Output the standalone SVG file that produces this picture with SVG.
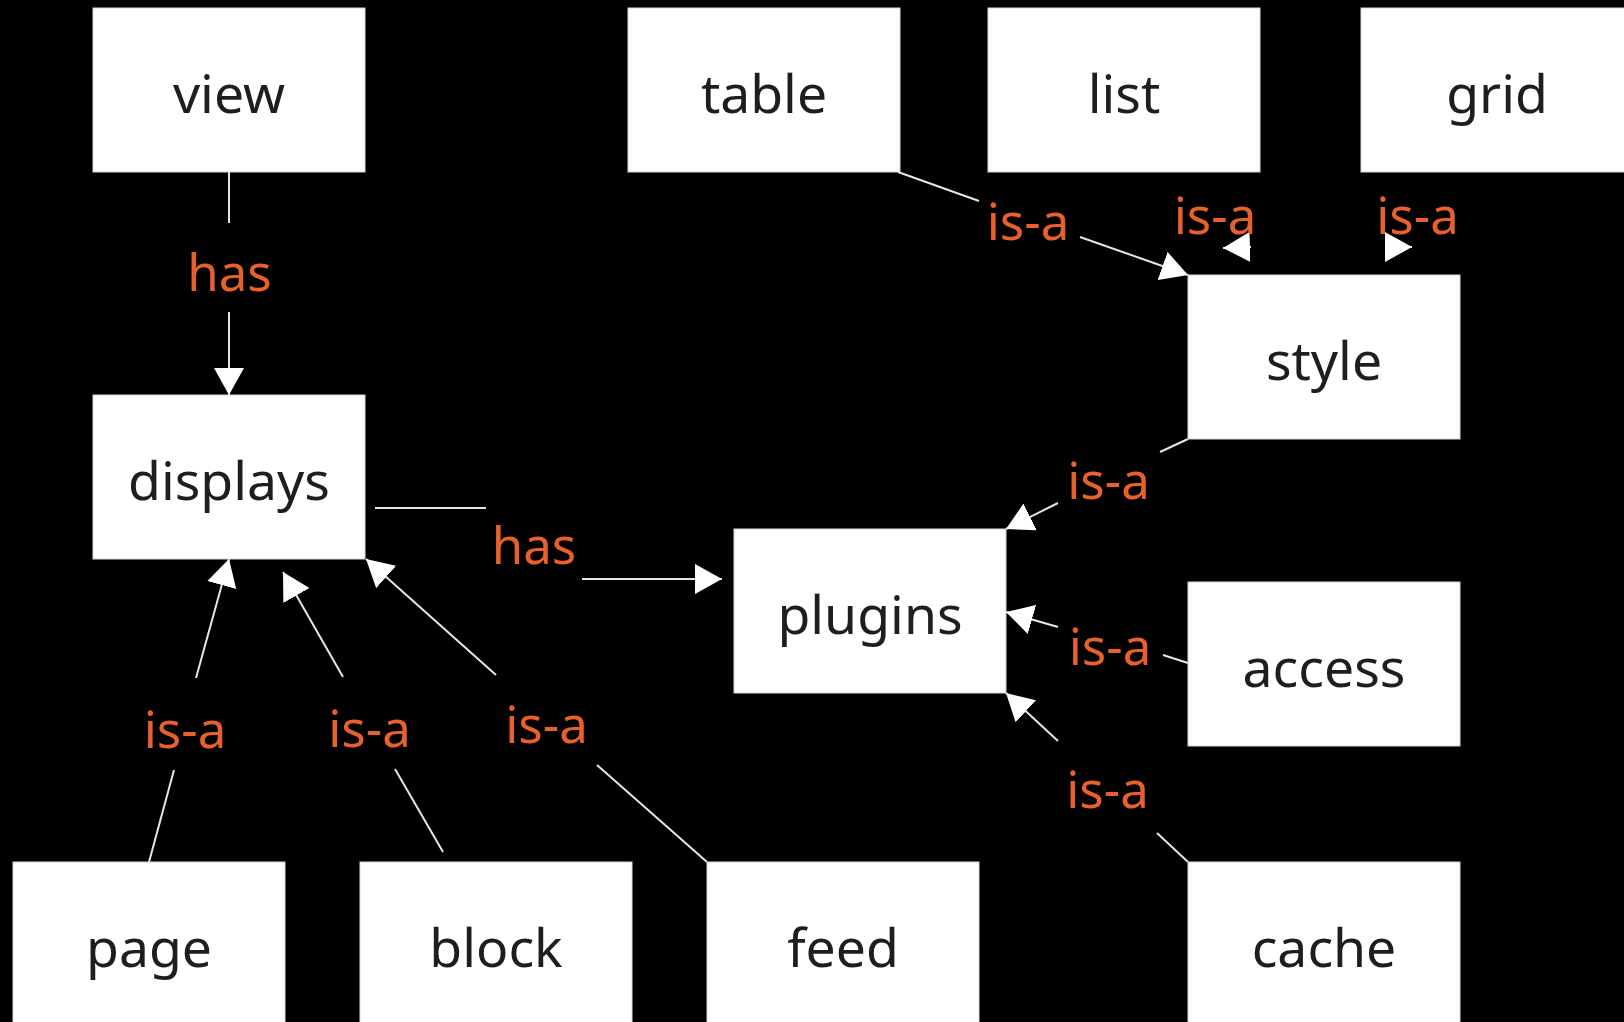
<svg xmlns="http://www.w3.org/2000/svg" width="1624" height="1022" viewBox="0 0 1624 1022">
<defs>
<style>
.node rect{fill:#ffffff;stroke:#d8d8d8;stroke-width:1}
.node text{font-family:"Noto Sans","Open Sans","DejaVu Sans",sans-serif;font-size:53.5px;fill:#1e1e1e;text-anchor:middle}
.edge{fill:none;stroke:#e6e6e6;stroke-width:2;marker-end:url(#arrow)}
.lbl{font-family:"Noto Sans","Open Sans","DejaVu Sans",sans-serif;font-size:51px;fill:#e8602c;text-anchor:middle}
</style>
<marker id="arrow" markerUnits="userSpaceOnUse" viewBox="0 0 27 30" refX="27" refY="15" markerWidth="27" markerHeight="30" orient="auto">
<path d="M0,0 L27,15 L0,30 z" fill="#ffffff"/>
</marker>
</defs>
<rect x="0" y="0" width="1624" height="1022" fill="#000000"/>

<g id="connectors">
<path class="edge" d="M229,172 L229,223 M229,312 L229,395"/>
<path class="edge" d="M375,508 L486,508 M582,579 L722,579"/>
<path class="edge" d="M898,172 L979,201 M1080,237 L1188,275"/>
<path class="edge" d="M1251,247 L1223,248"/>
<path class="edge" d="M1385,247 L1412,247"/>
<path class="edge" d="M1188,439 L1160,452 M1058,503 L1006,529"/>
<path class="edge" d="M1188,663 L1163,655 M1058,627 L1006,612"/>
<path class="edge" d="M1188,862 L1157,833 M1058,741 L1006,693"/>
<path class="edge" d="M149,862 L174,770 M196,678 L229,559"/>
<path class="edge" d="M443,852 L395,769 M343,677 L283,572"/>
<path class="edge" d="M707,862 L597,765 M496,675 L366,559"/>
</g>

<g id="labels">
<text class="lbl" x="229.5" y="291">has</text>
<text class="lbl" x="534" y="564">has</text>
<text class="lbl" x="1028" y="240">is-a</text>
<text class="lbl" x="1215" y="234">is-a</text>
<text class="lbl" x="1417.5" y="234">is-a</text>
<text class="lbl" x="1108.5" y="499">is-a</text>
<text class="lbl" x="1110" y="665">is-a</text>
<text class="lbl" x="1107.5" y="808">is-a</text>
<text class="lbl" x="185" y="748">is-a</text>
<text class="lbl" x="369.5" y="747">is-a</text>
<text class="lbl" x="546.5" y="743">is-a</text>
</g>

<g id="view" class="node"><rect x="93" y="8" width="272" height="164"/><text x="229" y="113">view</text></g>
<g id="table" class="node"><rect x="628" y="8" width="272" height="164"/><text x="764" y="113">table</text></g>
<g id="list" class="node"><rect x="988" y="8" width="272" height="164"/><text x="1124" y="113">list</text></g>
<g id="grid" class="node"><rect x="1361" y="8" width="272" height="164"/><text x="1497" y="113">grid</text></g>
<g id="style" class="node"><rect x="1188" y="275" width="272" height="164"/><text x="1324" y="380">style</text></g>
<g id="displays" class="node"><rect x="93" y="395" width="272" height="164"/><text x="229" y="500">displays</text></g>
<g id="plugins" class="node"><rect x="734" y="529" width="272" height="164"/><text x="870" y="634">plugins</text></g>
<g id="access" class="node"><rect x="1188" y="582" width="272" height="164"/><text x="1324" y="687">access</text></g>
<g id="page" class="node"><rect x="13" y="862" width="272" height="164"/><text x="149" y="967">page</text></g>
<g id="block" class="node"><rect x="360" y="862" width="272" height="164"/><text x="496" y="967">block</text></g>
<g id="feed" class="node"><rect x="707" y="862" width="272" height="164"/><text x="843" y="967">feed</text></g>
<g id="cache" class="node"><rect x="1188" y="862" width="272" height="164"/><text x="1324" y="967">cache</text></g>
</svg>
